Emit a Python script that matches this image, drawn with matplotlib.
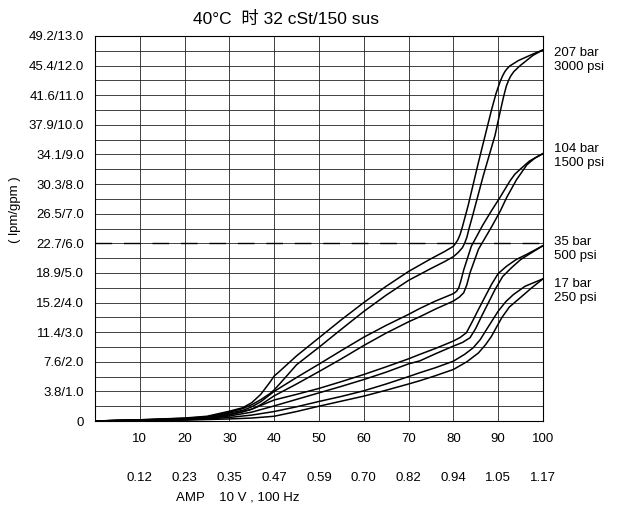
import matplotlib
matplotlib.use('Agg')
import matplotlib.pyplot as plt
import numpy as np

plt.rcParams['font.family'] = ['Liberation Sans', 'Noto Sans CJK SC', 'DejaVu Sans']

# ---- data (x = % command, y = gpm) ----
a1_x = [0, 10, 20, 25, 30, 33, 35, 37, 39, 40, 41, 45, 50, 55, 60, 65, 70, 75, 78, 80, 80.5, 81, 81.5,
        82, 83.3, 85.6, 88.5, 89.5, 90.4, 91, 91.5, 92, 92.6, 94.5, 96.4, 98.2, 100]
a1_y = [0, 0.04, 0.1, 0.16, 0.33, 0.45, 0.62, 0.9, 1.3, 1.52, 1.65, 2.2, 2.81, 3.42, 4.0, 4.55, 5.05, 5.48,
        5.72, 5.9, 6.0, 6.12, 6.3, 6.55, 7.28, 8.74, 10.5, 11.05, 11.45, 11.66, 11.8, 11.9, 11.99, 12.17,
        12.3, 12.42, 12.53]

a2_x = [0, 10, 20, 25, 30, 33, 35, 37, 39, 40, 41.5, 45, 50, 55, 60, 65, 70, 75, 78, 80, 81, 82, 82.5,
        83, 83.5, 84.3, 86.7, 89.3, 90.3, 91.2, 91.8, 92.3, 92.8, 93.5, 94.9, 97.8, 100]
a2_y = [0, 0.04, 0.09, 0.14, 0.3, 0.42, 0.55, 0.72, 0.92, 1.05, 1.3, 1.9, 2.49, 3.1, 3.7, 4.25, 4.75,
        5.15, 5.38, 5.55, 5.68, 5.85, 6.0, 6.2, 6.5, 6.94, 8.3, 9.65, 10.35, 10.95, 11.3, 11.5, 11.65,
        11.8, 12.0, 12.35, 12.53]

b1_x = [0, 10, 20, 25, 30, 33, 35, 37, 40, 45, 50, 55, 60, 65, 70, 72.5, 76, 80, 80.7, 81.2, 81.7,
        82.3, 84, 86.5, 88.5, 90.4, 92.6, 93.7, 94.9, 97, 100]
b1_y = [0, 0.03, 0.08, 0.13, 0.27, 0.36, 0.48, 0.65, 1.0, 1.47, 1.92, 2.38, 2.83, 3.23, 3.6, 3.8,
        4.05, 4.3, 4.38, 4.5, 4.75, 5.1, 5.9, 6.6, 7.1, 7.55, 8.1, 8.33, 8.5, 8.78, 9.03]

b2_x = [0, 10, 20, 25, 30, 33, 35, 37, 40, 45, 50, 55, 60, 65, 70, 72.5, 76, 80, 81.3, 82.3, 83,
        83.7, 85.6, 88.5, 90.5, 91.9, 94.1, 96.4, 98.2, 100]
b2_y = [0, 0.03, 0.07, 0.11, 0.23, 0.31, 0.4, 0.55, 0.85, 1.25, 1.67, 2.1, 2.55, 2.97, 3.35, 3.52,
        3.78, 4.05, 4.18, 4.33, 4.6, 5.0, 5.8, 6.55, 7.1, 7.55, 8.15, 8.65, 8.88, 9.03]

c1_x = [0, 10, 20, 25, 30, 35, 40, 45, 50, 55, 60, 65, 70, 72.5, 76, 80, 81.5, 82.9, 84.2, 85.6,
        88.5, 90, 91.9, 94, 96.4, 100]
c1_y = [0, 0.03, 0.06, 0.1, 0.2, 0.4, 0.71, 0.9, 1.1, 1.33, 1.57, 1.83, 2.1, 2.25, 2.45, 2.7, 2.82,
        2.98, 3.35, 3.77, 4.61, 4.98, 5.23, 5.45, 5.63, 5.92]

c2_x = [0, 10, 20, 25, 30, 35, 40, 45, 50, 55, 60, 65, 70, 72.5, 76, 80, 82, 83.7, 85, 86.3, 89.3,
        91, 93, 95, 97.1, 100]
c2_y = [0, 0.03, 0.05, 0.08, 0.17, 0.3, 0.51, 0.73, 0.95, 1.17, 1.4, 1.65, 1.93, 2.03, 2.27, 2.53,
        2.65, 2.81, 3.13, 3.54, 4.44, 4.88, 5.18, 5.45, 5.65, 5.92]

d1_x = [0, 10, 20, 25, 30, 35, 40, 45, 50, 55, 60, 65, 70, 72.5, 76, 80, 82.5, 84.4, 86, 87.4, 90,
        91.7, 93.4, 96, 100]
d1_y = [0, 0.02, 0.04, 0.07, 0.12, 0.2, 0.32, 0.48, 0.66, 0.83, 1.02, 1.25, 1.5, 1.63, 1.8, 2.02,
        2.25, 2.47, 2.75, 3.09, 3.71, 4.03, 4.27, 4.55, 4.8]

d2_x = [0, 10, 20, 25, 30, 35, 40, 45, 50, 55, 60, 65, 70, 72.5, 76, 80, 83, 85.6, 87.2, 88.5, 90.8,
        92.5, 94.9, 97.5, 100]
d2_y = [0, 0.02, 0.03, 0.05, 0.07, 0.1, 0.16, 0.32, 0.5, 0.67, 0.84, 1.04, 1.25, 1.36, 1.53, 1.74,
        2.0, 2.3, 2.58, 2.86, 3.49, 3.85, 4.16, 4.5, 4.8]

curves = [(a1_x, a1_y), (a2_x, a2_y), (b1_x, b1_y), (b2_x, b2_y),
          (c1_x, c1_y), (c2_x, c2_y), (d1_x, d1_y), (d2_x, d2_y)]

y_ticks = list(range(0, 14))
y_labels = ['0', '3.8/1.0', '7.6/2.0', '11.4/3.0', '15.2/4.0', '18.9/5.0', '22.7/6.0', '26.5/7.0',
            '30.3/8.0', '34.1/9.0', '37.9/10.0', '41.6/11.0', '45.4/12.0', '49.2/13.0']
x_ticks = [10, 20, 30, 40, 50, 60, 70, 80, 90, 100]
amp_labels = ['0.12', '0.23', '0.35', '0.47', '0.59', '0.70', '0.82', '0.94', '1.05', '1.17']

pressure_labels = ['207 bar\n3000 psi', '104 bar\n1500 psi', '35 bar\n500 psi', '17 bar\n250 psi']
pressure_label_y = [12.2, 8.95, 5.8, 4.4]

dash_level = 6.0

# ---- figure ----
fig = plt.figure(figsize=(6.17, 5.08), dpi=100)
ax = fig.add_axes([95 / 617, 87 / 508, 448 / 617, 385 / 508])
ax.set_xlim(0, 100)
ax.set_ylim(0, 13)

# grid
for yv in np.arange(0.5, 13, 0.5):
    ax.axhline(yv, color='#222222', lw=0.6, zorder=1)
for xv in x_ticks[:-1]:
    ax.axvline(xv, color='#222222', lw=0.6, zorder=1)

ax.axhline(dash_level, color='black', lw=1.0, dashes=(12, 8.5), zorder=2)

for cx, cy in curves:
    ax.plot(cx, cy, color='black', lw=1.1, zorder=3, solid_joinstyle='round')

for sp in ax.spines.values():
    sp.set_linewidth(0.8)

ax.set_yticks(y_ticks)
ax.set_yticklabels(y_labels, fontsize=9.5)
ax.set_xticks(x_ticks)
ax.set_xticklabels([str(v) for v in x_ticks], fontsize=9.5)
ax.tick_params(length=0, pad=8)
ax.tick_params(axis='x', pad=9)

# second row of x labels (current)
for xv, lab in zip(x_ticks, amp_labels):
    ax.text(xv, -0.148, lab, transform=ax.get_xaxis_transform(), ha='center', va='center', fontsize=9.5)
ax.text(238 / 617, 11 / 508, 'AMP    10 V , 100 Hz', transform=fig.transFigure,
        ha='center', va='center', fontsize=9.5)

ax.text(15 / 617, (508 - 210) / 508, '( lpm/gpm )', transform=fig.transFigure, rotation=90,
        ha='center', va='center', fontsize=9.5)

fig.text(286 / 617, (508 - 19) / 508, '40°C  时 32 cSt/150 sus', ha='center', va='center', fontsize=12.5)

for lab, yv in zip(pressure_labels, pressure_label_y):
    ax.text(102.5, yv, lab, ha='left', va='center', fontsize=9.5, linespacing=1.25, clip_on=False)

fig.savefig('out.png', dpi=100, facecolor='white')
